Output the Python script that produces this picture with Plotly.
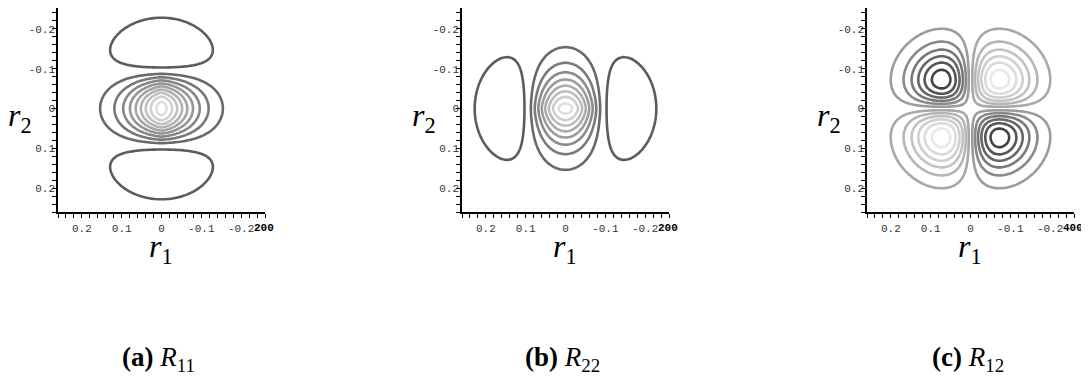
import numpy as np
import plotly.graph_objects as go

# ---------------- data ----------------
tick_values = [-0.2, -0.1, 0.0, 0.1, 0.2]
tick_labels = ["-0.2", "-0.1", "0", "0.1", "0.2"]
minor_step = 0.02
axis_limit = 0.26
end_labels = ["200", "200", "400"]

caption_tags = ["(a)", "(b)", "(c)"]
caption_subs = ["11", "22", "12"]

# R11 / R22 mode parameters (R22 is R11 with r1 and r2 swapped)
node_pos = 0.095          # node line of the side lobes
side_decay = 0.112        # decay of the lobe profile across the node
central_width = 0.0853    # width of the central lobe along the node
central_exp = 1.5
side_width = 0.118        # width of side lobes along the node
ab_neg_level = -0.0753    # single contour in each side lobe
ab_pos_first = [0.088, 0.088]
ab_pos_step = [0.107, 0.122]
ab_pos_count = [9, 8]

# R12 parameters
c_lobe_offset = 0.0725
c_level_first = 0.10
c_level_step = 0.16
c_level_count = 6

# grey level of a contour line against its level value
ab_grey_at = [(-0.1, 0x5a), (0.065, 0x66), (1.0, 0xe6)]
c_grey_at = [(-1.0, 0x38), (-0.10, 0x9c), (0.10, 0xa8), (1.0, 0xf0)]

# ---------------- field grid ----------------
grid = np.linspace(-0.27, 0.27, 109)
X, Y = np.meshgrid(grid, grid)


def profile(n):
    return (1 - n ** 2 / node_pos ** 2) * np.exp(-n ** 2 / side_decay ** 2)


def along(t, n):
    return np.where(np.abs(n) < node_pos,
                    np.exp(-(np.abs(t) / central_width) ** central_exp),
                    np.exp(-(t / side_width) ** 2))


Z_a = profile(Y) * along(X, Y)
Z_b = profile(X) * along(Y, X)
s = c_lobe_offset
Z_c = (X * Y / s ** 2) * np.exp(1 - (X ** 2 + Y ** 2) / (2 * s ** 2))

# ---------------- layout geometry (page pixels) ----------------
PAGE_W, PAGE_H = 1089, 376
BODY = 8                      # default page margin of the html body
W, H = PAGE_W - BODY, PAGE_H - BODY
lefts = [58, 462, 867]
pw = 207
top_ref, bottom = 5, 212
top = BODY                    # highest reachable page row
px_per_unit = (bottom - top_ref) / (2 * axis_limit)
zero_y = (bottom + top_ref) / 2
y_top_val = -(zero_y - top) / px_per_unit


def fx(p):
    return (p - BODY) / W


def fy(p):
    return min(1.0, max(0.0, 1 - (p - BODY) / H))


def grey(v, table):
    xs = [t[0] for t in table]
    gs = [t[1] for t in table]
    g = int(round(np.interp(v, xs, gs)))
    return f"rgb({g},{g},{g})"


def ctr(z, levels, table, i):
    levels = list(levels)
    if len(levels) == 1:
        cs = [[0, grey(levels[0], table)], [1, grey(levels[0], table)]]
        start, end, size = levels[0], levels[0], 1.0
    else:
        n = len(levels)
        cs = [[k / (n - 1), grey(levels[k], table)] for k in range(n)]
        start, end, size = levels[0], levels[-1] + 1e-6, levels[1] - levels[0]
    return go.Contour(
        x=grid, y=grid, z=z, autocontour=False,
        contours=dict(start=start, end=end, size=size, coloring="lines", showlabels=False),
        line=dict(width=2.6, smoothing=1),
        colorscale=cs, showscale=False,
        hoverinfo="skip",
        xaxis="x" if i == 0 else f"x{i+1}", yaxis="y" if i == 0 else f"y{i+1}",
    )


traces = []
for i, Z in enumerate([Z_a, Z_b]):
    traces.append(ctr(Z, [ab_neg_level], ab_grey_at, i))
    pos = [ab_pos_first[i] + ab_pos_step[i] * k for k in range(ab_pos_count[i])]
    traces.append(ctr(Z, pos, ab_grey_at, i))
c_pos = [c_level_first + c_level_step * k for k in range(c_level_count)]
c_neg = [-v for v in reversed(c_pos)]
traces.append(ctr(Z_c, c_neg, c_grey_at, 2))
traces.append(ctr(Z_c, c_pos, c_grey_at, 2))

fig = go.Figure(traces)

all_ticks = [round(v, 2) for v in np.arange(-axis_limit, axis_limit + 1e-9, minor_step)]
label_of = {round(v, 2): t for v, t in zip(tick_values, tick_labels)}
all_text = [label_of.get(v, "") for v in all_ticks]

tickfont = dict(family="Liberation Mono", size=11, color="#333333")
common = dict(
    tickmode="array", tickvals=all_ticks, ticktext=all_text,
    ticks="outside", ticklen=4, tickwidth=1, tickcolor="black",
    showline=True, linecolor="black", linewidth=1.5, mirror=False,
    showgrid=False, zeroline=False, tickfont=tickfont, fixedrange=True, automargin=False,
)

layout = dict(width=W, height=H, margin=dict(l=0, r=0, t=0, b=0, autoexpand=False),
              paper_bgcolor="white", plot_bgcolor="white", showlegend=False)
annotations = []
for i, L in enumerate(lefts):
    sx = "" if i == 0 else str(i + 1)
    layout[f"xaxis{sx}"] = dict(common, domain=[fx(L), fx(L + pw)], anchor=f"y{sx}",
                                range=[axis_limit, -axis_limit], ticklabelstandoff=1)
    layout[f"yaxis{sx}"] = dict(common, domain=[fy(bottom), fy(top)], anchor=f"x{sx}",
                                range=[axis_limit, y_top_val], ticklabelstandoff=-5)
    zero_px = L + pw / 2
    annotations.append(dict(text="<i>r</i><sub>2</sub>", x=fx(L - 38), y=fy(117),
                            font=dict(family="Liberation Serif", size=32, color="black")))
    annotations.append(dict(text="<i>r</i><sub>1</sub>", x=fx(zero_px - 1), y=fy(248),
                            font=dict(family="Liberation Serif", size=32, color="black")))
    annotations.append(dict(text=f"<b>{end_labels[i]}</b>", x=fx(L + pw - 1), y=fy(228),
                            font=dict(family="Liberation Mono", size=11, color="black")))
    annotations.append(dict(text=f"<b>{caption_tags[i]}</b> <i>R</i><sub>{caption_subs[i]}</sub>",
                            x=fx(zero_px - 3), y=fy(359),
                            font=dict(family="Liberation Serif", size=27, color="black")))
for a in annotations:
    a.update(xref="paper", yref="paper", xanchor="center", yanchor="middle", showarrow=False)
layout["annotations"] = annotations
fig.update_layout(**layout)
fig.write_html("out.html")
